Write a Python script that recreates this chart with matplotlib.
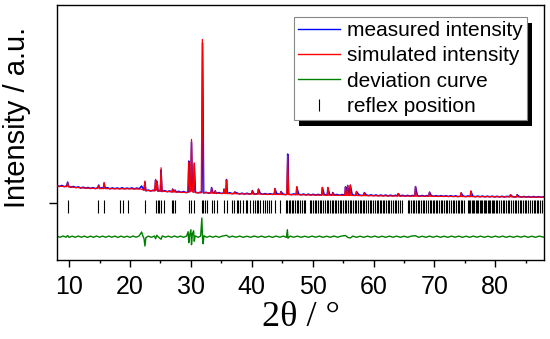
import numpy as np
import matplotlib
matplotlib.use("Agg")
import matplotlib.pyplot as plt
from matplotlib.lines import Line2D
from matplotlib.patches import Rectangle

plt.rcParams['font.family'] = ['Liberation Sans', 'DejaVu Sans']

# simulated pattern (2theta, counts)
sim_tt = [8.0, 9.6, 9.75, 9.9, 11.0, 12.5, 14.7, 14.85, 15.0, 15.6, 15.75, 15.9, 18.0, 20.0,
          21.8, 22.3, 22.45, 22.6, 23.5, 24.05, 24.2, 24.32, 24.45, 24.6, 24.95, 25.1, 25.25,
          26.9, 27.0, 27.1, 27.3, 27.4, 27.5, 29.5, 29.65, 29.8, 29.95, 30.1, 30.25, 30.4, 30.55,
          30.7, 31.7, 31.88, 32.05, 33.3, 33.4, 33.5, 33.9, 34.0, 34.1, 35.35, 35.45, 35.55,
          35.75, 35.85, 35.95, 37.1, 37.2, 37.3, 40.0, 40.1, 40.2, 41.0, 41.1, 41.2, 43.7, 43.8,
          43.9, 44.7, 44.8, 44.9, 45.75, 45.9, 46.05, 47.3, 47.4, 47.5, 51.5, 51.6, 51.7, 52.4,
          52.5, 52.6, 53.2, 53.3, 53.4, 55.3, 55.4, 55.5, 55.65, 55.75, 55.85, 56.1, 56.2, 56.3,
          57.1, 57.2, 57.3, 58.4, 58.5, 58.6, 60.0, 64.0, 64.1, 64.2, 66.8, 66.9, 67.0, 69.1,
          69.2, 69.3, 74.3, 74.4, 74.5, 75.9, 76.0, 76.1, 79.0, 82.4, 82.5, 82.6, 83.5, 83.6,
          83.7, 88.0]
sim_int = [1700, 1630, 2030, 1620, 1560, 1500, 1450, 1730, 1450, 1440, 2030, 1440, 1430, 1420,
           1400, 1280, 2200, 1250, 1230, 1210, 2370, 1300, 2200, 1200, 1190, 3530, 1180,
           1120, 1370, 1110, 1100, 1250, 1100, 1050, 4100, 1100, 1200, 6370, 1150, 1080, 4030,
           1040, 1020, 16370, 1030, 1000, 1500, 990, 980, 1230, 980, 960, 1370, 960,
           950, 2300, 950, 930, 1100, 930, 900, 1200, 900, 890, 1370, 890, 860, 1430,
           860, 850, 1130, 850, 840, 4770, 840, 830, 1630, 830, 790, 1570, 790, 780,
           1570, 780, 780, 1000, 780, 760, 1630, 760, 760, 1770, 760, 760, 1800, 760,
           750, 1130, 750, 740, 1000, 740, 730, 700, 950, 700, 690, 1630, 690, 680,
           1100, 680, 650, 1030, 650, 640, 1200, 640, 630, 620, 820, 620, 610, 820,
           610, 580]

# measured pattern
meas_tt = [8.0, 8.4, 8.8, 9.2, 9.6, 9.75, 9.9, 10.3, 10.7, 11.1, 11.5, 11.9, 12.3, 12.7, 13.1,
           13.5, 13.9, 14.3, 14.7, 14.85, 15.0, 15.3, 15.6, 15.75, 15.9, 16.3, 16.7, 17.1, 17.5,
           17.9, 18.3, 18.7, 19.1, 19.5, 19.9, 20.3, 20.7, 21.1, 21.5, 21.9, 22.1, 22.3, 22.45,
           22.6, 23.0, 23.4, 23.8, 24.1, 24.2, 24.32, 24.45, 24.6, 24.8, 25.0, 25.1, 25.25, 25.7,
           26.1, 26.5, 26.9, 27.0, 27.2, 27.4, 27.6, 28.0, 28.4, 28.8, 29.2, 29.55, 29.65, 29.8,
           29.97, 30.1, 30.25, 30.45, 30.55, 30.75, 31.2, 31.6, 31.8, 31.92, 32.1, 32.5, 32.9,
           33.3, 33.4, 33.6, 33.9, 34.0, 34.2, 34.6, 35.0, 35.35, 35.45, 35.6, 35.75, 35.85, 36.0,
           36.4, 36.8, 37.1, 37.2, 37.6, 38.0, 38.4, 38.8, 39.2, 39.6, 40.0, 40.1, 40.4, 41.0,
           41.1, 41.4, 41.8, 42.2, 42.6, 43.0, 43.4, 43.7, 43.8, 44.1, 44.7, 44.8, 45.1, 45.5,
           45.8, 45.9, 46.05, 46.5, 46.9, 47.3, 47.4, 47.7, 48.1, 48.5, 48.9, 49.3, 49.7, 50.1,
           50.5, 50.9, 51.3, 51.5, 51.6, 51.9, 52.4, 52.5, 52.8, 53.2, 53.3, 53.6, 54.0, 54.4,
           54.8, 55.3, 55.4, 55.55, 55.75, 55.95, 56.2, 56.5, 56.9, 57.1, 57.2, 57.6, 58.0, 58.4,
           58.5, 58.8, 59.2, 59.6, 60.0, 60.4, 60.8, 61.2, 61.6, 62.0, 62.4, 62.8, 63.2, 63.6,
           63.95, 64.05, 64.4, 64.8, 65.2, 65.6, 66.0, 66.4, 66.8, 66.9, 67.2, 67.6, 68.0, 68.4,
           68.8, 69.1, 69.2, 69.5, 69.9, 70.3, 70.7, 71.1, 71.5, 71.9, 72.3, 72.7, 73.1, 73.5,
           73.9, 74.3, 74.4, 74.7, 75.1, 75.5, 75.9, 76.0, 76.3, 76.7, 77.1, 77.5, 77.9, 78.3,
           78.7, 79.1, 79.5, 79.9, 80.3, 80.7, 81.1, 81.5, 81.9, 82.4, 82.5, 82.8, 83.2, 83.5,
           83.6, 83.9, 84.3, 84.7, 85.1, 85.5, 85.9, 86.3, 86.7, 87.1, 87.5, 88.0]
meas_int = [1780, 1650, 1760, 1640, 1720, 2100, 1680, 1580, 1660, 1540, 1620, 1500, 1590, 1480, 1560,
            1450, 1540, 1440, 1530, 1800, 1450, 1530, 1460, 2000, 1470, 1540, 1420, 1520, 1430,
            1510, 1420, 1530, 1420, 1500, 1430, 1520, 1410, 1500, 1430, 1700, 1500, 1300, 2100,
            1220, 1300, 1200, 1290, 1250, 2300, 1320, 2150, 1180, 1260, 1200, 3300, 1150, 1240,
            1130, 1220, 1100, 1400, 1150, 1300, 1090, 1180, 1060, 1150, 1040, 1100, 4200, 1150,
            1200, 6100, 1200, 1100, 3900, 1080, 1020, 1100, 1050, 16000, 1000, 1080, 980,
            1040, 1550, 1060, 990, 1200, 960, 1050, 950, 1010, 1400, 1020, 960, 2350, 960,
            1030, 930, 990, 1100, 1000, 900, 990, 890, 980, 900, 960, 1250, 880, 950,
            1400, 960, 870, 950, 860, 940, 860, 920, 1450, 930, 880, 1150, 920, 840,
            900, 4900, 900, 840, 910, 850, 1600, 900, 820, 900, 810, 890, 800, 880,
            790, 870, 800, 840, 1550, 860, 790, 1520, 850, 800, 1050, 790, 860, 770,
            850, 800, 1600, 840, 1750, 820, 1780, 840, 760, 820, 1150, 830, 750, 800,
            1050, 820, 740, 820, 730, 810, 720, 800, 720, 800, 710, 790, 710, 780,
            730, 950, 700, 780, 690, 770, 690, 760, 720, 1650, 760, 680, 760, 670,
            750, 700, 1080, 740, 670, 740, 660, 740, 660, 730, 650, 730, 650, 720,
            640, 690, 1000, 710, 640, 710, 660, 1180, 700, 630, 700, 630, 700, 620,
            690, 620, 690, 610, 680, 610, 680, 600, 670, 640, 830, 660, 600, 640,
            830, 660, 590, 660, 590, 650, 580, 650, 580, 640, 580, 630]

# deviation curve (measured - simulated), drawn with an offset
dev_tt = [8.0, 8.5, 9.0, 9.5, 9.75, 10.0, 10.5, 11.0, 11.5, 12.0, 12.5, 13.0, 13.5, 14.0, 14.5,
          15.0, 15.5, 16.0, 16.5, 17.0, 17.5, 18.0, 18.5, 19.0, 19.5, 20.0, 20.5, 21.0, 21.5,
          21.9, 22.1, 22.3, 22.45, 22.6, 23.0, 23.5, 24.0, 24.2, 24.4, 24.7, 25.1, 25.3, 25.8,
          26.3, 26.8, 27.3, 27.8, 28.3, 28.8, 29.3, 29.55, 29.65, 29.8, 30.0, 30.1, 30.25, 30.45,
          30.55, 30.7, 31.2, 31.6, 31.8, 31.92, 32.0, 32.15, 32.6, 33.1, 33.6, 34.1, 34.6, 35.1,
          35.85, 36.3, 36.8, 37.4, 38.0, 38.6, 39.2, 39.8, 40.4, 41.0, 41.6, 42.2, 42.8, 43.4,
          44.0, 44.6, 45.2, 45.7, 45.85, 45.95, 46.3, 46.9, 47.5, 48.1, 48.7, 49.3, 49.9, 50.5,
          51.1, 51.7, 52.3, 52.9, 53.5, 54.1, 54.7, 55.4, 55.8, 56.2, 56.6, 57.2, 57.8, 58.4,
          59.0, 59.6, 60.2, 60.8, 61.4, 62.0, 62.6, 63.2, 63.8, 64.4, 65.0, 65.6, 66.2, 66.9,
          67.4, 68.0, 68.6, 69.2, 69.8, 70.4, 71.0, 71.6, 72.2, 72.8, 73.4, 74.0, 74.6, 75.2,
          75.8, 76.4, 77.0, 77.6, 78.2, 78.8, 79.4, 80.0, 80.6, 81.2, 81.8, 82.4, 83.0, 83.6,
          84.2, 84.8, 85.4, 86.0, 86.6, 87.2, 88.0]
dev_int = [80, -60, 70, -50, 120, -70, 60, -60, 70, -50, 60, -70, 60, -60, 70,
           -50, 60, -60, 70, -50, 60, -70, 60, -60, 50, -60, 70, -50, 80,
           470, 100, -200, -930, -100, 60, -60, 70, -200, 150, -60, -250, 80, -50,
           60, -60, 70, -50, 60, -60, 70, 500, -600, 200, 700, -800, 300, 600,
           -450, 80, -60, 70, 1870, -300, -700, 100, -60, 60, -50, 60, -60, 50,
           150, -60, 60, -50, 60, -60, 50, -60, 70, -50, 60, -60, 50, -60,
           60, -50, 60, -70, 700, -150, 60, -50, 60, -60, 50, -60, 60, -50,
           60, -60, 50, -60, 70, -50, 60, 120, -80, -120, 60, -60, 50, -60,
           60, -50, 60, -60, 50, -60, 60, -50, 60, -60, 50, -60, 60, 100,
           -60, 50, -60, 60, -50, 60, -60, 50, -60, 60, -50, 60, -60, 50,
           -60, 60, -50, 60, -60, 50, -60, 60, -50, 60, -60, 50, -60, 60,
           -50, 60, -60, 50, -60, 60, -50]
dev_offset = -3370

# reflex positions (2theta)
reflex = [9.79, 14.82, 15.75, 18.43, 18.81, 19.74, 22.48, 24.29, 24.56, 24.83, 25.11, 25.60,
          26.86, 27.13, 27.41, 29.65, 29.98, 30.53, 31.84, 32.06, 32.39, 32.71, 33.43, 33.81,
          34.36, 35.45, 35.89, 36.82, 37.15, 37.53, 37.81, 38.08, 38.63, 39.01, 39.28, 39.72,
          40.16, 40.54, 40.82, 41.09, 41.36, 41.91, 42.18, 42.46, 42.79, 43.12, 43.83, 44.65,
          45.63, 45.85, 46.07, 46.29, 46.56, 46.84, 47.11, 47.39, 47.66,
          47.95, 48.3, 48.55, 48.8, 49.5, 49.8, 50.1, 50.35, 50.6, 50.9, 51.2, 51.45, 51.7,
          51.95, 52.3, 52.55, 52.8, 53.1, 53.4, 53.6, 53.9, 54.2, 54.45, 54.7, 55.0, 55.3,
          55.5, 55.8, 56.1, 56.35, 56.6, 56.9, 57.2, 57.45, 57.7, 58.0, 58.3, 58.5, 58.8,
          59.1, 59.4, 59.6, 59.9, 60.2, 60.5, 60.7, 61.0, 61.3, 61.55, 61.8, 62.1, 62.4,
          62.6, 62.9, 63.2, 63.45, 63.7, 64.0, 64.3, 64.6, 65.6, 65.9, 66.2, 66.45, 66.7,
          67.0, 67.3, 67.55, 67.8, 68.1, 68.35, 68.6, 68.9, 69.2, 69.4, 69.7, 70.0, 70.25,
          70.5, 70.8, 71.1, 71.3, 71.6, 71.9, 72.15, 72.4, 72.7, 73.0, 73.2, 73.5, 73.8,
          74.05, 74.3, 74.6, 74.9, 75.5, 75.7, 75.9, 76.1, 76.35, 76.55, 76.8, 77.0, 77.2,
          77.45, 77.65, 77.9, 78.1, 78.3, 78.55, 78.75, 79.0, 79.2, 79.4, 79.65, 79.85, 80.1,
          80.3, 80.6, 80.9, 81.2, 81.5, 81.8, 82.05, 82.3, 82.6, 82.9, 83.2, 83.45, 83.7,
          84.0, 84.3, 84.6, 84.85, 85.1, 85.4, 85.7, 86.0, 86.3, 86.55, 86.8, 87.1, 87.4, 87.7]

fig = plt.figure(figsize=(5.5, 3.39), dpi=100)
ax = fig.add_axes([0.1036, 0.233, 0.8854, 0.752])

ax.plot(meas_tt, meas_int, color='#0000ff', lw=1.1, zorder=2)
ax.plot(sim_tt, sim_int, color='#ff0000', lw=0.9, zorder=3)
ax.plot(dev_tt, np.array(dev_int) + dev_offset, color='#008000', lw=1.0, zorder=2)
ax.vlines(reflex, -1000, 300, color='k', lw=0.8, zorder=2)

ax.set_xlim(8, 88)
ax.set_ylim(-5700, 19800)
ax.set_xticks(range(10, 90, 10))
ax.set_xticks(range(15, 90, 10), minor=True)
ax.set_yticks([0])
ax.set_yticklabels([])
ax.tick_params(axis='x', which='major', direction='out', length=5, width=1, pad=6, labelsize=18)
ax.tick_params(axis='x', which='minor', direction='out', length=2.5, width=1)
ax.tick_params(axis='y', direction='out', length=6, width=1)
for s in ax.spines.values():
    s.set_linewidth(1.0)

ax.set_xlabel('2θ / °', fontsize=26, family=['Liberation Serif', 'DejaVu Serif'], labelpad=1)
fig.text(17 / 550, 1 - 117 / 339, 'Intensity / a.u.', fontsize=21, rotation=90,
         ha='center', va='center')

handles = [Line2D([], [], color='#0000ff', lw=1),
           Line2D([], [], color='#ff0000', lw=1),
           Line2D([], [], color='#008000', lw=1),
           Line2D([], [], color='k', marker='|', ls='none', markersize=9, markeredgewidth=0.8)]
labels = ['measured intensity', 'simulated intensity', 'deviation curve', 'reflex position']
leg = ax.legend(handles, labels, loc='upper right', bbox_to_anchor=(0.965, 0.953),
                borderaxespad=0, fontsize=15, frameon=True, fancybox=False,
                edgecolor='#888888', framealpha=1, borderpad=0.2, labelspacing=0.3,
                handlelength=2.0, handletextpad=0.35)
leg.get_frame().set_linewidth(0.8)
leg.set_zorder(6)

# black drop shadow behind the legend box
fig.canvas.draw()
bb = leg.get_window_extent().transformed(fig.transFigure.inverted())
dx, dy = 5 / 550, 6 / 339
shadow = Rectangle((bb.x0 + dx, bb.y0 - dy), bb.width, bb.height, transform=fig.transFigure,
                   facecolor='k', edgecolor='none', zorder=5)
ax.add_artist(shadow)

fig.savefig('out.png', dpi=100)
